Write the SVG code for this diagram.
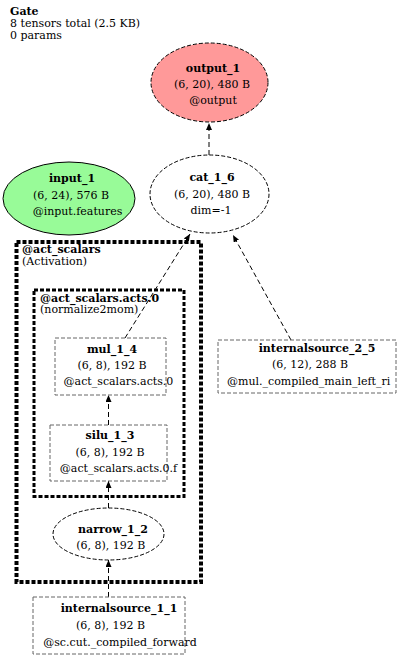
<svg xmlns="http://www.w3.org/2000/svg" width="400" height="658" viewBox="0 0 400 658">
<defs>
<marker id="ah" markerWidth="8" markerHeight="6" refX="7" refY="3" orient="auto" markerUnits="userSpaceOnUse">
<path d="M0,0 L7,3 L0,6 Z" fill="#000"/>
</marker>
<style>
text{font-family:"DejaVu Serif","Liberation Serif",serif;font-size:11px;fill:#000}
.b{font-weight:bold}
.m{text-anchor:middle}
.ell{stroke:#000;stroke-width:1;stroke-dasharray:4,2}
.box{fill:none;stroke:#666;stroke-width:1;stroke-dasharray:4,2}
.edge{fill:none;stroke:#000;stroke-width:1;stroke-dasharray:5,3;marker-end:url(#ah)}
</style>
</defs>
<rect width="400" height="658" fill="#fff"/>
<g id="title">
<text x="10" y="15" class="b">Gate</text>
<text x="10" y="27">8 tensors total (2.5 KB)</text>
<text x="10" y="39">0 params</text>
</g>
<g id="cluster_act_scalars">
<rect x="16.5" y="242" width="184.5" height="340" fill="none" stroke="#000" stroke-width="4" stroke-dasharray="4,2"/>
<text x="22" y="253" class="b">@act_scalars</text>
<text x="22" y="265">(Activation)</text>
</g>
<g id="cluster_act_scalars_acts_0">
<rect x="34" y="290" width="150" height="206.5" fill="none" stroke="#000" stroke-width="3" stroke-dasharray="4,2"/>
<text x="40" y="301.5" class="b">@act_scalars.acts.0</text>
<text x="40" y="313">(normalize2mom)</text>
</g>
<g id="edges">
<line class="edge" x1="209" y1="155" x2="209" y2="123"/>
<line class="edge" x1="125" y1="338" x2="190" y2="234"/>
<line class="edge" x1="291" y1="340" x2="233" y2="235"/>
<line class="edge" x1="108.5" y1="425" x2="108.5" y2="395"/>
<line class="edge" x1="108.5" y1="508" x2="108.5" y2="481"/>
<line class="edge" x1="108.5" y1="597" x2="108.5" y2="560"/>
</g>
<g id="output_1">
<ellipse class="ell" cx="209.5" cy="82.5" rx="58.5" ry="39.5" fill="#ff9999"/>
<text x="213" y="72" class="b m">output_1</text>
<text x="212" y="88" class="m">(6, 20), 480 B</text>
<text x="213" y="104" class="m">@output</text>
</g>
<g id="cat_1_6">
<ellipse class="ell" cx="209.5" cy="194" rx="59.5" ry="39" fill="#fff"/>
<text x="212" y="181" class="b m">cat_1_6</text>
<text x="212" y="197.5" class="m">(6, 20), 480 B</text>
<text x="211" y="214" class="m">dim=-1</text>
</g>
<g id="input_1">
<ellipse cx="69" cy="198.5" rx="66" ry="36.5" fill="#98fb98" stroke="#000" stroke-width="1"/>
<text x="72" y="182" class="b m">input_1</text>
<text x="71" y="198.5" class="m">(6, 24), 576 B</text>
<text x="77.5" y="215" class="m">@input.features</text>
</g>
<g id="mul_1_4">
<rect class="box" x="55" y="338" width="111" height="57"/>
<text x="112" y="352.5" class="b m">mul_1_4</text>
<text x="112" y="369" class="m">(6, 8), 192 B</text>
<text x="118.5" y="385" class="m">@act_scalars.acts.0</text>
</g>
<g id="silu_1_3">
<rect class="box" x="50" y="425" width="117" height="56"/>
<text x="110" y="439" class="b m">silu_1_3</text>
<text x="110" y="455.5" class="m">(6, 8), 192 B</text>
<text x="118.5" y="472" class="m">@act_scalars.acts.0.f</text>
</g>
<g id="narrow_1_2">
<ellipse class="ell" cx="108.5" cy="534" rx="55.5" ry="26" fill="#fff"/>
<text x="113" y="532.5" class="b m">narrow_1_2</text>
<text x="110.8" y="549" class="m">(6, 8), 192 B</text>
</g>
<g id="internalsource_1_1">
<rect class="box" x="33" y="597" width="152" height="57"/>
<text x="119" y="611.5" class="b m">internalsource_1_1</text>
<text x="110.5" y="628.5" class="m">(6, 8), 192 B</text>
<text x="120" y="645.5" class="m">@sc.cut._compiled_forward</text>
</g>
<g id="internalsource_2_5">
<rect class="box" x="218" y="340" width="178" height="53"/>
<text x="317" y="351.5" class="b m">internalsource_2_5</text>
<text x="310" y="368" class="m">(6, 12), 288 B</text>
<text x="227" y="385">@mul._compiled_main_left_ri</text>
</g>
</svg>
